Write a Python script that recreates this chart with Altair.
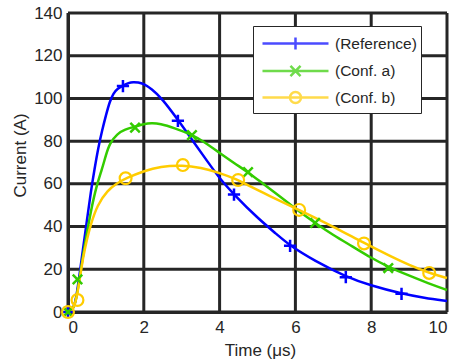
import altair as alt
import pandas as pd

# ---- data ----
series_names = ["(Reference)", "(Conf. a)", "(Conf. b)"]
series_colors = ["#0000ff", "#33cc00", "#ffcc00"]

ref_t = [0, 0.1, 0.2, 0.3, 0.4, 0.5, 0.6, 0.7, 0.8, 0.9, 1.0, 1.1, 1.2, 1.3, 1.45, 1.6, 1.72, 1.85, 2.0, 2.2, 2.48, 2.9, 3.3, 3.7, 4.0, 4.38, 5.0, 5.5, 5.86, 6.5, 7.33, 8.0, 8.8, 9.4, 10]
ref_i = [0, 0.6, 4, 17, 30, 43, 56, 67, 77, 85, 92, 98.5, 102.5, 104.5, 106, 107.3, 107.7, 107.5, 106.8, 104.5, 100, 90, 80, 70, 62.5, 55, 44, 36.5, 31, 24, 16.5, 12.3, 8.6, 6.6, 5.1]

a_t = [0, 0.1, 0.2, 0.3, 0.4, 0.5, 0.6, 0.75, 0.9, 1.0, 1.1, 1.3, 1.5, 1.77, 2.0, 2.2, 2.43, 2.8, 3.27, 3.56, 4.0, 4.4, 4.75, 5.15, 5.6, 6.0, 6.3, 6.52, 7.0, 7.5, 8.0, 8.45, 9.0, 9.5, 10]
a_i = [0, 0.6, 4, 15, 27, 37, 47, 59, 67, 73.5, 79, 83.5, 85.5, 86.8, 88, 88.5, 88.2, 86.2, 83, 80, 74.5, 69.5, 65.5, 60, 54, 48.5, 44.5, 41.7, 36, 30.8, 25.3, 21.2, 17, 13.5, 10.3]

b_t = [0, 0.1, 0.2, 0.3, 0.4, 0.5, 0.6, 0.77, 1.04, 1.3, 1.52, 2.0, 2.43, 3.03, 3.5, 4.0, 4.49, 4.67, 5.3, 6.1, 7.0, 7.81, 8.5, 9.0, 9.53, 10]
b_i = [0, 0.6, 4, 14, 26, 34, 41, 50, 57, 60.3, 62.6, 66, 68.2, 68.8, 67.6, 65.2, 61.8, 60, 54.5, 47.8, 40, 32.3, 26.2, 22, 18.3, 15.9]

ref_mt = [0, 1.45, 2.9, 4.38, 5.86, 7.33, 8.8]
ref_mi = [0, 105.8, 89.5, 55, 31, 16.3, 8.5]
a_mt = [0, 0.25, 1.77, 3.27, 4.75, 6.52, 8.45]
a_mi = [0, 15.3, 86.3, 82.8, 65.5, 41.7, 20.6]
b_mt = [0, 0.25, 1.52, 3.03, 4.49, 6.1, 7.81, 9.53]
b_mi = [0, 5.6, 62.6, 68.8, 61.8, 47.8, 32.1, 18.3]

x_ticks = [0, 2, 4, 6, 8, 10]
y_ticks = [0, 20, 40, 60, 80, 100, 120, 140]

# ---- tables ----
curves = pd.concat([
    pd.DataFrame({"t": ref_t, "I": ref_i, "series": series_names[0]}),
    pd.DataFrame({"t": a_t, "I": a_i, "series": series_names[1]}),
    pd.DataFrame({"t": b_t, "I": b_i, "series": series_names[2]}),
])
markers = pd.concat([
    pd.DataFrame({"t": ref_mt, "I": ref_mi, "series": series_names[0]}),
    pd.DataFrame({"t": a_mt, "I": a_mi, "series": series_names[1]}),
    pd.DataFrame({"t": b_mt, "I": b_mi, "series": series_names[2]}),
])
xgrid = pd.DataFrame({"t": x_ticks})
ygrid = pd.DataFrame({"I": y_ticks})

FONT = "Liberation Sans"
TXT = "#262626"

def cscale():
    return alt.Scale(domain=series_names, range=series_colors)

xs = alt.Scale(domain=[0, 10], nice=False)
ys = alt.Scale(domain=[0, 140], nice=False)

x_enc = alt.X("t:Q", scale=xs,
              axis=alt.Axis(values=x_ticks, title="Time (μs)", labelPadding=7, grid=False,
                            titleBaseline="alphabetic", titleY=43, titleX=192))
y_enc = alt.Y("I:Q", scale=ys,
              axis=alt.Axis(values=y_ticks, title="Current (A)", labelPadding=6, grid=False,
                            titleBaseline="alphabetic", titleX=-43, titleY=142))

vgrid = alt.Chart(xgrid).mark_rule(color=TXT, strokeWidth=3, size=3).encode(x=x_enc)
hgrid = alt.Chart(ygrid).mark_rule(color=TXT, strokeWidth=3, size=3).encode(y=y_enc)

lines = alt.Chart(curves).mark_line(strokeWidth=2.5, interpolate="basis").encode(
    x=x_enc, y=y_enc,
    color=alt.Color("series:N", scale=cscale(), legend=None),
    detail="series:N",
)

def marker_layer(name, shape, size, sw):
    return alt.Chart(markers).transform_filter(
        alt.datum.series == name
    ).mark_point(shape=shape, size=size, filled=False, strokeWidth=sw, opacity=1).encode(
        x=x_enc, y=y_enc,
        color=alt.Color("series:N", scale=cscale(), legend=None),
    )

m_ref = marker_layer(series_names[0], "M-1,0H1M0,-1V1", 150, 2.5)
m_a = marker_layer(series_names[1], "M-1,-1L1,1M-1,1L1,-1", 90, 2.5)
m_b = marker_layer(series_names[2], "circle", 140, 2.2)

# legend symbols: line sample with the series marker in its middle
legend_paths = [
    "M-0.667,0H4.833M2.083,-0.5V0.5",
    "M-0.667,0H4.833M1.663,-0.42L2.503,0.42M1.663,0.42L2.503,-0.42",
    "M-0.667,0H4.833M2.543,0A0.46,0.46,0,1,1,1.623,0A0.46,0.46,0,1,1,2.543,0",
]

leg = alt.Legend(
    title=None, orient="none", legendX=185, legendY=13,
    strokeColor=TXT, fillColor="white", padding=4,
    symbolSize=576, symbolStrokeWidth=2.5,
    labelFont=FONT, labelFontSize=15.5, labelColor=TXT, labelOffset=51,
    labelExpr="datum.label + '\u00a0\u00a0\u00a0'",
    rowPadding=2.5,
)

legend_layer = alt.Chart(markers).transform_filter("datum.t < -100").mark_point(
    filled=False, strokeWidth=2.5
).encode(
    x=x_enc, y=y_enc,
    color=alt.Color("series:N", scale=cscale(), legend=leg),
    shape=alt.Shape("series:N", scale=alt.Scale(domain=series_names, range=legend_paths), legend=leg),
)

chart = alt.layer(vgrid, hgrid, lines, m_ref, m_a, m_b, legend_layer).resolve_scale(
    color="independent", shape="independent"
).resolve_legend(color="independent", shape="independent").properties(
    width=379, height=299,
    autosize=alt.AutoSizeParams(type="none"),
    padding={"left": 68, "top": 13, "right": 6, "bottom": 50},
    background="white",
).configure_view(stroke=None).configure_axis(
    domain=True, domainColor=TXT, domainWidth=3,
    ticks=False,
    labelFont=FONT, labelFontSize=17, labelColor=TXT,
    titleFont=FONT, titleFontSize=17, titleColor=TXT, titleFontWeight="normal",
)

chart.save("out.html", embed_options={"renderer": "svg", "actions": False})
